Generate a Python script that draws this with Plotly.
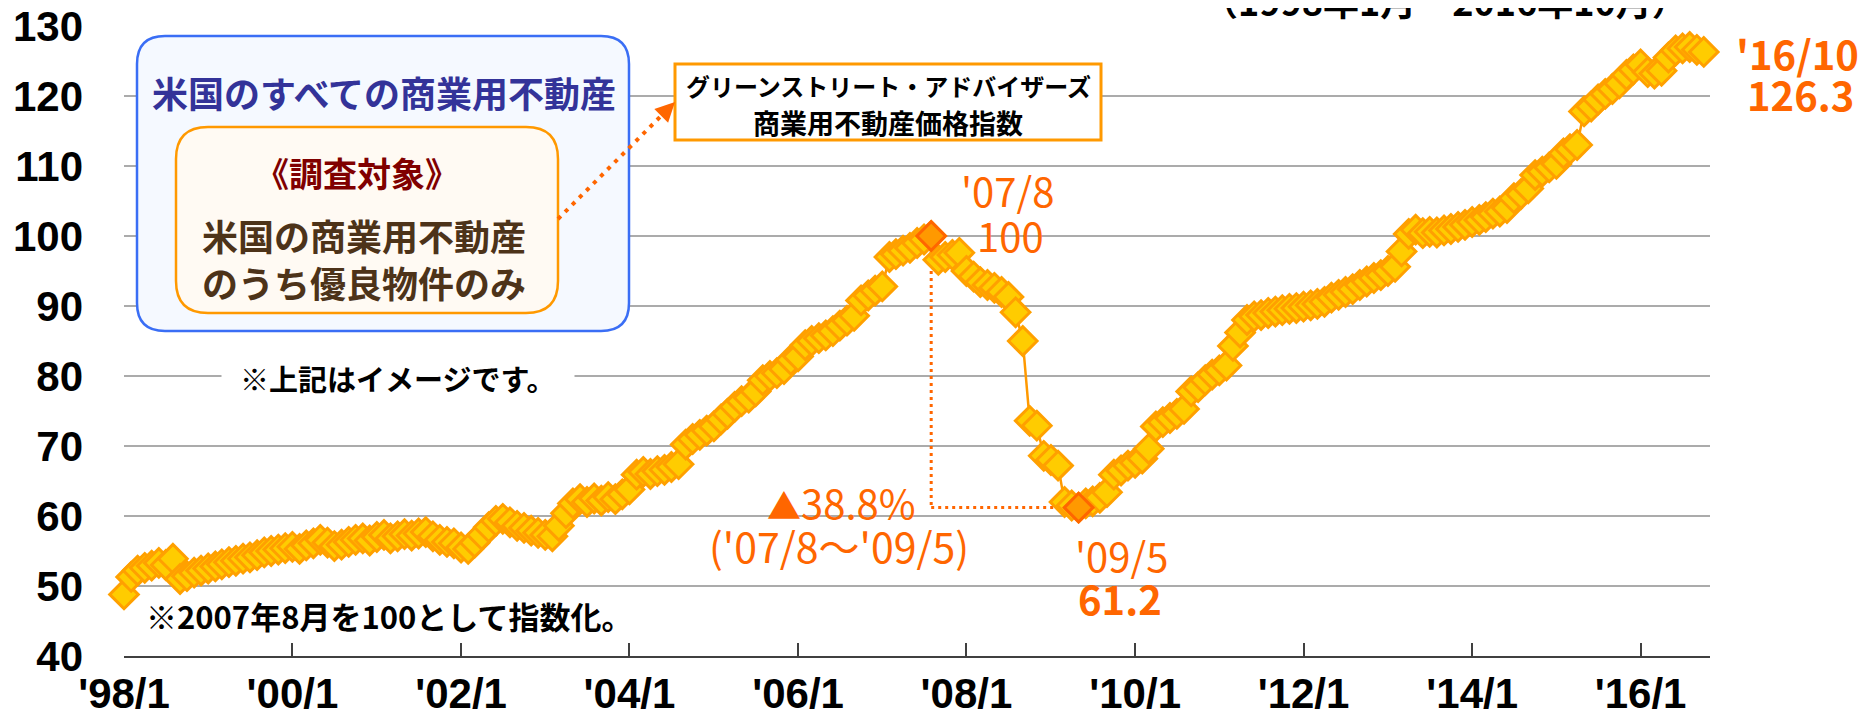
import pandas as pd
import plotly.graph_objects as go

# ---------------- data ----------------
values_1998 = [48.8, 51.3, 52.2, 52.6, 52.9, 53.3, 53.0, 53.9, 51.0, 51.4, 51.9, 52.2]
values_1999 = [52.5, 52.8, 53.1, 53.4, 53.6, 53.9, 54.1, 54.4, 54.8, 55.0, 55.2, 55.4]
values_2000 = [55.6, 55.3, 55.8, 56.1, 56.6, 56.2, 55.7, 55.9, 56.3, 56.6, 56.8, 56.5]
values_2001 = [57.0, 57.3, 56.8, 57.1, 57.4, 57.2, 57.5, 57.7, 57.1, 56.6, 56.3, 56.1]
values_2002 = [55.5, 55.3, 56.2, 57.3, 58.4, 59.3, 59.6, 59.1, 58.6, 58.3, 57.9, 57.6]
values_2003 = [57.3, 57.1, 58.6, 60.4, 61.8, 62.4, 62.0, 62.5, 62.2, 62.7, 62.4, 63.1]
values_2004 = [63.8, 65.9, 66.3, 66.0, 66.4, 66.6, 67.0, 67.4, 70.2, 71.0, 71.6, 72.2]
values_2005 = [72.8, 73.8, 74.6, 75.6, 76.4, 76.9, 77.8, 79.4, 80.0, 80.4, 81.0, 82.3]
values_2006 = [82.8, 84.4, 85.0, 85.4, 85.8, 86.4, 87.2, 87.9, 88.6, 90.8, 91.5, 92.2]
values_2007 = [92.8, 97.0, 97.4, 97.9, 98.3, 99.0, 99.5, 100.0, 96.6, 97.0, 97.3, 97.6]
values_2008 = [95.0, 94.2, 93.4, 93.0, 92.6, 92.0, 91.3, 89.1, 85.0, 73.6, 72.9, 68.6]
values_2009 = [68.0, 67.2, 62.0, 61.5, 61.2, 61.8, 62.1, 62.6, 63.4, 65.9, 66.5, 67.2]
values_2010 = [67.6, 68.2, 69.6, 72.8, 73.4, 74.0, 74.6, 75.3, 77.8, 78.4, 79.4, 80.2]
values_2011 = [80.8, 81.5, 84.3, 86.2, 88.0, 88.5, 88.7, 89.0, 89.2, 89.4, 89.6, 89.7]
values_2012 = [89.9, 90.1, 90.3, 90.6, 91.2, 91.6, 92.0, 92.4, 93.0, 93.5, 94.0, 94.4]
values_2013 = [95.0, 95.6, 97.8, 100.3, 100.9, 100.4, 100.6, 100.5, 100.8, 101.0, 101.3, 101.6]
values_2014 = [102.0, 102.3, 102.7, 103.2, 103.5, 104.0, 105.4, 106.0, 106.8, 108.7, 109.2, 109.8]
values_2015 = [110.3, 111.8, 112.4, 113.0, 117.8, 118.5, 119.5, 120.3, 121.0, 121.8, 123.0, 123.8]
values_2016 = [124.5, 123.4, 123.2, 123.6, 125.5, 126.5, 126.8, 127.0, 126.6, 126.3]

tick_dates = ["1998-01-01", "2000-01-01", "2002-01-01", "2004-01-01", "2006-01-01",
              "2008-01-01", "2010-01-01", "2012-01-01", "2014-01-01", "2016-01-01"]
tick_labels = ["'98/1", "'00/1", "'02/1", "'04/1", "'06/1",
               "'08/1", "'10/1", "'12/1", "'14/1", "'16/1"]
y_ticks = [40, 50, 60, 70, 80, 90, 100, 110, 120, 130]

index_values = (values_1998 + values_1999 + values_2000 + values_2001 + values_2002 +
                values_2003 + values_2004 + values_2005 + values_2006 + values_2007 +
                values_2008 + values_2009 + values_2010 + values_2011 + values_2012 +
                values_2013 + values_2014 + values_2015 + values_2016)
months = list(pd.date_range("1998-01-01", periods=len(index_values), freq="MS"))

peak_i = months.index(pd.Timestamp("2007-08-01"))
trough_i = min(range(peak_i, len(index_values)), key=lambda i: index_values[i])
last_i = len(index_values) - 1


def ym(d):
    return f"'{d:%y}/{d.month}"


# ---------------- geometry helpers ----------------
# page coordinates of the target (1869x724); the html body adds an 8px margin
BODY = 8
W, H = 1869 - BODY, 724 - BODY
PL, PR, PT, PB = 124, 1710, 26, 656


def fx(x):
    return (x - PL) / (PR - PL)


def fy(y):
    return (PB - y) / (PB - PT)


def rounded_rect(x0, y0, x1, y1, r):
    pts = [("M", (x0 + r, y0)), ("L", (x1 - r, y0)), ("Q", (x1, y0), (x1, y0 + r)),
           ("L", (x1, y1 - r)), ("Q", (x1, y1), (x1 - r, y1)), ("L", (x0 + r, y1)),
           ("Q", (x0, y1), (x0, y1 - r)), ("L", (x0, y0 + r)), ("Q", (x0, y0), (x0 + r, y0))]
    s = ""
    for p in pts:
        s += p[0] + " " + " ".join(f"{fx(a):.5f},{fy(b):.5f}" for a, b in p[1:]) + " "
    return s + "Z"


JP = "Noto Sans CJK JP"
NUM = "Liberation Sans, Arial"
ORG = "Noto Sans CJK JP"
ORANGE_TXT = "#FF6600"

fig = go.Figure()

fig.add_trace(go.Scatter(
    x=months, y=index_values, mode="lines+markers", cliponaxis=False,
    line=dict(color="#FF9900", width=2.5),
    marker=dict(symbol="diamond", size=22, color="#FFCC00",
                line=dict(color="#FFA000", width=3)),
    hoverinfo="x+y", showlegend=False))

fig.add_trace(go.Scatter(
    x=[months[peak_i], months[trough_i]],
    y=[index_values[peak_i], index_values[trough_i]], mode="markers", cliponaxis=False,
    marker=dict(symbol="diamond", size=22, color="#FF9900",
                line=dict(color="#FF6600", width=3)),
    showlegend=False))

shapes = [
    # peak -> trough dotted guide
    dict(type="line", xref="x", yref="y", layer="between",
         x0=months[peak_i], x1=months[peak_i],
         y0=index_values[peak_i], y1=index_values[trough_i],
         line=dict(color=ORANGE_TXT, width=3, dash="3px,4px")),
    dict(type="line", xref="x", yref="y", layer="between",
         x0=months[peak_i], x1=months[trough_i],
         y0=index_values[trough_i], y1=index_values[trough_i],
         line=dict(color=ORANGE_TXT, width=3, dash="3px,4px")),
    # boxes
    dict(type="path", xref="paper", yref="paper", layer="above",
         path=rounded_rect(137, 36, 629, 331, 28),
         fillcolor="#F5F9FF", line=dict(color="#3A6EF5", width=2.5)),
    dict(type="path", xref="paper", yref="paper", layer="above",
         path=rounded_rect(176, 127, 558, 313, 32),
         fillcolor="#FFFAF3", line=dict(color="#FF9900", width=2.5)),
    dict(type="rect", xref="paper", yref="paper", layer="above",
         x0=fx(675), x1=fx(1101), y0=fy(64), y1=fy(140),
         fillcolor="white", line=dict(color="#FF9900", width=3)),
    dict(type="line", xref="paper", yref="paper", layer="above",
         x0=fx(558), y0=fy(219), x1=fx(664), y1=fy(113),
         line=dict(color=ORANGE_TXT, width=4, dash="4px,6px")),
]

anns = []


def txt(text, x, y, size, color="black", family=JP, weight="bold", **kw):
    anns.append(dict(text=text, x=fx(x), y=fy(y), xref="paper", yref="paper",
                     xanchor="center", yanchor="middle", showarrow=False,
                     font=dict(size=size, color=color, family=family, weight=weight), **kw))


txt("（1998年1月～2016年10月）", 1445, 0, 36)
txt("米国のすべての商業用不動産", 384, 92, 36, color="#333399")
txt("《調査対象》", 357, 173, 34, color="#800000")
txt("米国の商業用不動産", 364, 235, 36, color="#4D3319")
txt("のうち優良物件のみ", 364, 282, 36, color="#4D3319")
txt("グリーンストリート・アドバイザーズ", 888, 85, 24)
txt("商業用不動産価格指数", 888, 122, 27)
txt("※上記はイメージです。", 398, 378, 29, bgcolor="white", borderpad=18)
txt("※2007年8月を100として指数化。", 389, 615, 31)

txt(ym(months[peak_i]), 1008, 190, 40, color=ORANGE_TXT, family=ORG, weight="normal")
txt(f"{index_values[peak_i]:g}", 1010, 235, 40, color=ORANGE_TXT, family=ORG, weight="normal")
txt(ym(months[trough_i]), 1121, 555, 40, color=ORANGE_TXT, family=ORG, weight="normal")
txt(f"{index_values[trough_i]:g}", 1120, 598, 40, color=ORANGE_TXT, family=ORG)
txt(ym(months[last_i]), 1797, 53, 40, color=ORANGE_TXT, family=ORG)
txt(f"{index_values[last_i]:g}", 1800, 94, 40, color=ORANGE_TXT, family=ORG)
drop = (1 - index_values[trough_i] / index_values[peak_i]) * 100
txt(f"<span style='font-size:34px'>▲</span>{drop:.1f}%", 841, 502, 40,
    color=ORANGE_TXT, family=ORG, weight="normal")
txt(f"({ym(months[peak_i])}～{ym(months[trough_i])})", 839, 545, 41,
    color=ORANGE_TXT, family=ORG, weight="normal")

# arrow head of the dotted connector
anns.append(dict(x=fx(675), y=fy(102), xref="paper", yref="paper", text="",
                 showarrow=True, ax=-14, ay=14, arrowhead=2, arrowsize=1.3,
                 arrowwidth=3, arrowcolor=ORANGE_TXT, standoff=0))

fig.update_layout(
    width=W, height=H, autosize=False,
    margin=dict(l=PL - BODY, r=W - (PR - BODY), t=PT - BODY, b=H - (PB - BODY),
                pad=0, autoexpand=False),
    paper_bgcolor="white", plot_bgcolor="white",
    shapes=shapes, annotations=anns, showlegend=False,
    xaxis=dict(type="date", range=["1998-01-01", "2016-10-28"], automargin=False,
               tickvals=tick_dates, ticktext=tick_labels, ticklabeloverflow="allow",
               showgrid=False, zeroline=False, showline=True,
               linecolor="#404040", linewidth=2,
               ticks="inside", ticklen=13, tickwidth=1.5, tickcolor="#404040",
               ticklabelstandoff=0,
               tickfont=dict(size=42, color="black", family=NUM, weight="bold")),
    yaxis=dict(range=[40, 130], tickvals=y_ticks, automargin=False,
               ticklabeloverflow="allow",
               showgrid=True, gridcolor="#ABABAB", gridwidth=2,
               zeroline=False, showline=False, ticks="",
               ticklabelstandoff=40,
               tickfont=dict(size=42, color="black", family=NUM, weight="bold")),
)

fig.write_html("out.html")
